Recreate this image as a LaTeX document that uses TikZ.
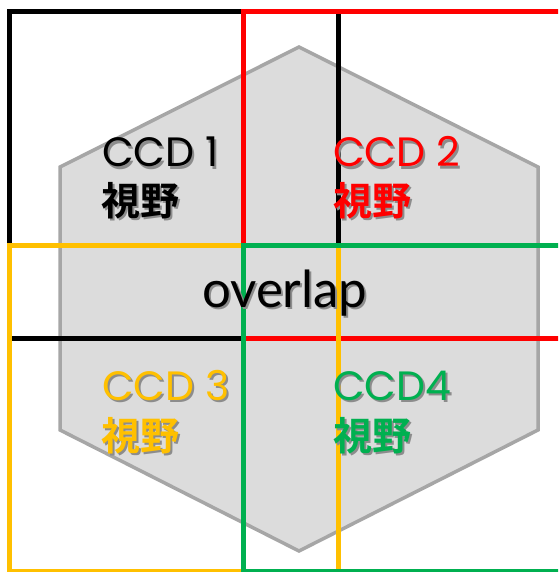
\documentclass[tikz,border=0pt]{standalone}
\usepackage{fontspec}
\newfontfamily\ccdfont{Poppins}
\newfontfamily\ovfont{Lato}
\newfontfamily\cjk{Noto Sans CJK JP}[BoldFont={Noto Sans CJK JP Bold}]
\definecolor{ccdred}{HTML}{FF0000}
\definecolor{ccdyellow}{HTML}{FFC000}
\definecolor{ccdgreen}{HTML}{00B050}
\definecolor{hexfill}{HTML}{DCDCDC}
\definecolor{hexline}{HTML}{A6A6A6}
\definecolor{shadowgray}{HTML}{8C8C8C}
\newcommand{\shadowed}[1]{\makebox[0pt][l]{\hspace{2pt}\raisebox{-2pt}{\textcolor{shadowgray}{#1}}}#1}
\begin{document}
\begin{tikzpicture}[x=1pt,y=-1pt,
  fov/.style={line width=4.5pt},
  lbl/.style={anchor=base west,inner sep=0pt,font=\ccdfont\fontsize{41}{41}\selectfont},
  jlbl/.style={anchor=base west,inner sep=0pt,font=\cjk\bfseries\fontsize{39}{39}\selectfont}]
\useasboundingbox (0,0) rectangle (558,572);
\clip (0,0) rectangle (558,572);
\fill[white] (0,0) rectangle (558,572);
% hexagon
\draw[fill=hexfill,draw=hexline,line width=3.5pt,line join=miter]
  (299,47) -- (538,167) -- (538,430) -- (299,551) -- (60,430) -- (60,167) -- cycle;
% fields of view
\draw[fov,black] (9.5,11.5) rectangle (338.5,338.5);
\draw[fov,ccdred] (243.5,11.5) rectangle (600,338.5);
\draw[fov,ccdyellow] (9.5,245.5) rectangle (338.5,571);
\draw[fov,ccdgreen] (243.5,245.5) rectangle (600,571);
% labels
\node[lbl] (t1) at (102,167) {\shadowed{CCD 1}};
\node[jlbl] (t1j) at (101,215) {\shadowed{視野}};
\node[lbl,text=ccdred] (t2) at (333,167) {\shadowed{CCD 2}};
\node[jlbl,text=ccdred] (t2j) at (333,215) {\shadowed{視野}};
\node[lbl,text=ccdyellow] (t3) at (102,400) {\shadowed{CCD 3}};
\node[jlbl,text=ccdyellow] (t3j) at (101,450) {\shadowed{視野}};
\node[lbl,text=ccdgreen] (t4) at (333,400) {\shadowed{CCD4}};
\node[jlbl,text=ccdgreen] (t4j) at (333,450) {\shadowed{視野}};
\node[anchor=base west,inner sep=0pt,font=\ovfont\fontsize{51}{51}\selectfont] (ov) at (202,307) {\shadowed{overlap}};
\end{tikzpicture}
\end{document}
